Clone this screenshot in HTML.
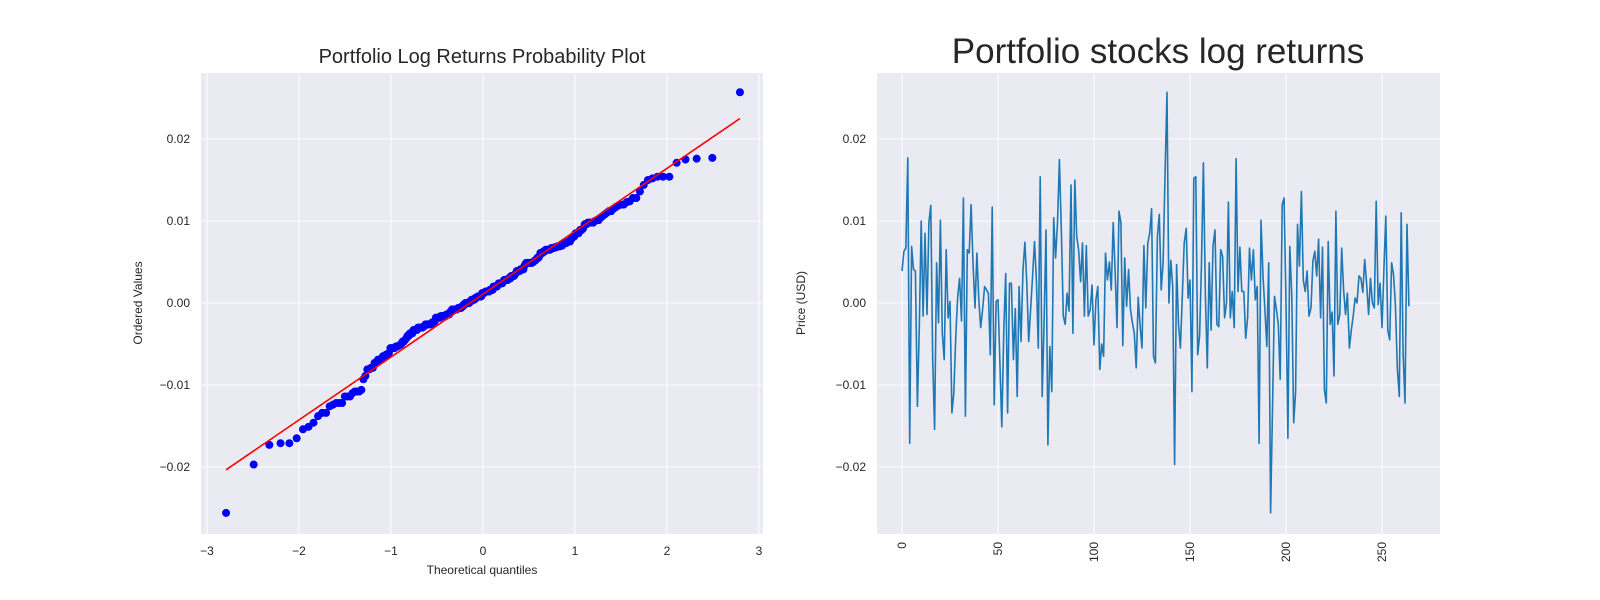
<!DOCTYPE html>
<html><head><meta charset="utf-8"><style>
html,body{margin:0;padding:0;background:#fff;}
svg{display:block;font-family:"Liberation Sans","DejaVu Sans",sans-serif;}
</style></head><body>
<svg id="fig" width="1600" height="600" viewBox="0 0 1600 600"></svg>
<script>
// log returns in percent (value * 100)
const returnsPct = [0.39,0.63,0.67,1.77,-1.71,0.69,0.41,0.39,-1.26,-0.3,1.0,-0.16,0.85,-0.14,0.98,1.19,-0.69,-1.54,0.49,-0.24,1.01,-0.37,-0.69,0.65,-0.18,0.02,-1.34,-1.1,-0.4,0.08,0.3,-0.22,1.28,-1.38,0.65,0.61,1.2,0.49,-0.06,0.61,0.04,-0.3,-0.08,0.2,0.16,0.12,-0.63,1.17,-1.24,0.02,0.04,-0.73,-1.51,-0.33,0.36,-1.34,0.24,0.24,-0.69,-0.07,-1.14,0.2,-0.47,0.41,0.74,0.24,-0.47,-0.08,0.33,0.75,0.28,-0.55,1.54,-1.14,-0.24,0.89,-1.73,-0.53,-1.08,1.04,0.55,0.98,1.75,0.85,-0.16,-0.26,0.12,-0.1,1.44,-0.37,1.5,0.81,0.65,0.26,0.73,-0.16,0.7,-0.16,-0.08,0.22,-0.51,0.04,0.2,-0.81,-0.5,-0.65,0.61,0.28,0.5,0.16,0.98,0.39,-0.3,1.12,0.98,-0.52,0.55,-0.04,0.41,-0.08,-0.24,-0.37,-0.79,0.07,
-0.28,-0.55,0.7,-0.06,0.73,0.85,1.15,-0.65,-0.73,0.81,1.08,0.16,0.49,1.54,2.57,0,0.52,0.2,-1.97,0.47,-0.26,-0.55,0.08,0.73,0.91,0.06,0.28,-1.08,1.52,1.54,-0.63,-0.4,0.49,1.71,0.08,-0.79,0.49,-0.33,0.69,0.89,-0.26,-0.29,0.65,0.57,-0.18,0,1.23,-0.18,0.14,-0.3,1.76,0.14,0.68,0.14,0.14,-0.43,-0.18,0.67,0.28,0.65,0.04,0.2,-1.71,1.01,0.33,-0.08,-0.53,0.49,-2.56,-1.22,0.08,-0.08,-0.26,-0.93,1.2,1.28,0,-1.65,0.69,0.08,-1.46,-1.08,0.96,0.45,1.36,0.28,0.14,0.39,-0.16,-0.06,0.51,0.63,0.33,0.78,-0.18,0.68,-1.06,-1.22,0.75,-0.26,-0.11,-0.89,1.12,-0.26,-0.14,0.67,0.16,-0.14,0.12,-0.55,-0.33,-0.16,0.06,0,0.33,0.3,0.13,0.53,0.24,-0.14,0.3,0,-0.06,1.24,-0.02,0.24,-0.3,0.41,1.06,-0.33,-0.45,0.49,0.35,-0.02,-0.81,-1.14,1.1,-0.61,-1.22,0.96,-0.04];
const fitSlope = 0.00767;
const fitIntercept = 0.00108;
const yTicks = [0.02,0.01,0,-0.01,-0.02];
const yTickLabels = ["0.02","0.01","0.00","\u22120.01","\u22120.02"];
const qTicks = [-3,-2,-1,0,1,2,3];
const qTickLabels = ["\u22123","\u22122","\u22121","0","1","2","3"];
const idxTicks = [0,50,100,150,200,250];
const idxTickLabels = ["0","50","100","150","200","250"];

const NS="http://www.w3.org/2000/svg";
const svg=document.getElementById('fig');
function mk(tag,attrs,parent){const e=document.createElementNS(NS,tag);for(const k in attrs)e.setAttribute(k,attrs[k]);(parent||svg).appendChild(e);return e;}
const yS=v=>303-v*8200;
const qS=q=>483+92*q;
const iS=i=>902+1.92*i;

function norminv(p){const a=[-39.69683028665376,220.9460984245205,-275.9285104469687,138.3577518672690,-30.66479806614716,2.506628277459239],b=[-54.47609879822406,161.5858368580409,-155.6989798598866,66.80131188771972,-13.28068155288572],c=[-0.007784894002430293,-0.3223964580411365,-2.400758277161838,-2.549732539343734,4.374664141464968,2.938163982698783],d=[0.007784695709041462,0.3224671290700398,2.445134137142996,3.754408661907416];const pl=0.02425;let q,r;if(p<pl){q=Math.sqrt(-2*Math.log(p));return(((((c[0]*q+c[1])*q+c[2])*q+c[3])*q+c[4])*q+c[5])/((((d[0]*q+d[1])*q+d[2])*q+d[3])*q+1);}if(p>1-pl){q=Math.sqrt(-2*Math.log(1-p));return-(((((c[0]*q+c[1])*q+c[2])*q+c[3])*q+c[4])*q+c[5])/((((d[0]*q+d[1])*q+d[2])*q+d[3])*q+1);}q=p-0.5;r=q*q;return(((((a[0]*r+a[1])*r+a[2])*r+a[3])*r+a[4])*r+a[5])*q/(((((b[0]*r+b[1])*r+b[2])*r+b[3])*r+b[4])*r+1);}

function axes(name,x0,x1,xt,xScale){
  const g=mk('g',{});
  
  
  const bg=mk('rect',{x:x0,y:73,width:x1-x0,height:461,fill:'#eaeaf2'},g);
  
  
  yTicks.forEach((v,k)=>{
    const l=mk('line',{x1:x0,x2:x1,y1:yS(v),y2:yS(v),stroke:'#fff','stroke-width':1},g);
    
    
    const t=mk('text',{x:x0-11,y:yS(v)+4,'text-anchor':'end','font-size':12,fill:'#262626'},g);
    t.textContent=yTickLabels[k];
    
    
  });
  xt.forEach(v=>{
    const l=mk('line',{x1:xScale(v),x2:xScale(v),y1:73,y2:534,stroke:'#fff','stroke-width':1},g);
    
    
  });
  return g;
}

// Left: probability plot
const gl=axes('probability-plot',201,763,qTicks,qS);
qTicks.forEach((v,k)=>{
  const t=mk('text',{x:qS(v),y:555,'text-anchor':'middle','font-size':12,fill:'#262626'},gl);
  t.textContent=qTickLabels[k];
  
  
});
const sorted=returnsPct.map(v=>v/100).sort((a,b)=>a-b);
const n=sorted.length;
const mn=Math.pow(0.5,1/n);
const quant=sorted.map((v,i)=>{let m;if(i===0)m=1-mn;else if(i===n-1)m=mn;else m=(i+1-0.3175)/(n+0.365);return norminv(m);});
sorted.forEach((v,i)=>{
  const c=mk('circle',{cx:qS(quant[i]),cy:yS(v),r:4,fill:'#0000ff'},gl);
  
  
});
const qmin=quant[0],qmax=quant[n-1];
const fl=mk('line',{x1:qS(qmin),y1:yS(fitIntercept+fitSlope*qmin),x2:qS(qmax),y2:yS(fitIntercept+fitSlope*qmax),stroke:'#ff0000','stroke-width':1.6},gl);



// Right: line chart
const gr=axes('returns-line-chart',877,1440,idxTicks,iS);
idxTicks.forEach((v,k)=>{
  const t=mk('text',{transform:`translate(${iS(v)+4},542) rotate(-90)`,'text-anchor':'end','font-size':12,fill:'#262626'},gr);
  t.textContent=idxTickLabels[k];
  
  
});
const pts=returnsPct.map((v,i)=>iS(i).toFixed(1)+','+yS(v/100).toFixed(1)).join(' ');
const pl=mk('polyline',{points:pts,fill:'none',stroke:'#1f77b4','stroke-width':1.6,'stroke-linejoin':'round'},gr);


</script>
<div style="position:absolute;left:0;top:0;width:1600px;height:600px;pointer-events:none">
<svg width="1600" height="600" style="position:absolute;left:0;top:0">
<text x="482" y="63" text-anchor="middle" font-size="20" fill="#262626" font-family="Liberation Sans, sans-serif">Portfolio Log Returns Probability Plot</text>
<text x="482" y="574" text-anchor="middle" font-size="12" fill="#262626" font-family="Liberation Sans, sans-serif">Theoretical quantiles</text>
<text transform="translate(142,303) rotate(-90)" text-anchor="middle" font-size="12" fill="#262626" font-family="Liberation Sans, sans-serif">Ordered Values</text>
<text x="1158" y="63" text-anchor="middle" font-size="35" fill="#262626" font-family="Liberation Sans, sans-serif">Portfolio stocks log returns</text>
<text transform="translate(805,303) rotate(-90)" text-anchor="middle" font-size="12" fill="#262626" font-family="Liberation Sans, sans-serif">Price (USD)</text>
</svg></div>
</body></html>
